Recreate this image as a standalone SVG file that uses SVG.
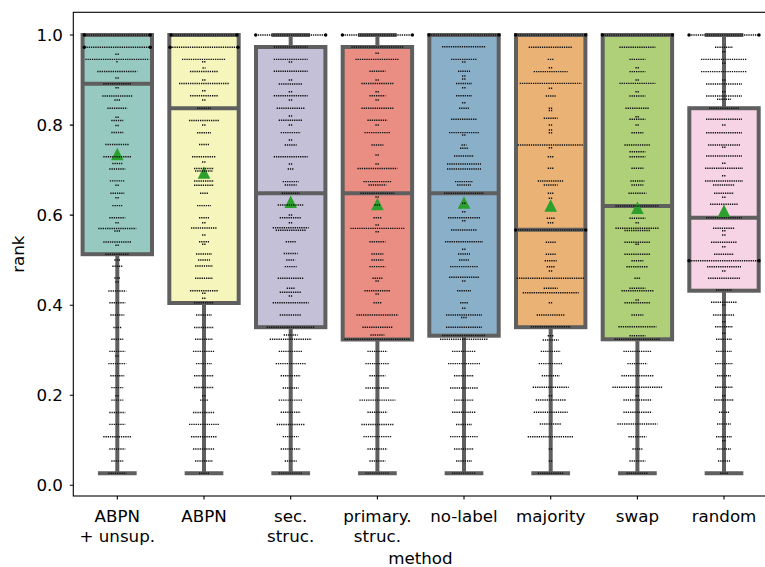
<svg xmlns="http://www.w3.org/2000/svg" xmlns:xlink="http://www.w3.org/1999/xlink" width="765" height="567" viewBox="0 0 765 567">
  <style>
    text { font-family: "DejaVu Sans", "Liberation Sans", sans-serif; font-size: 16.7px; fill: #000; }
    .box { stroke: #5f5f5f; stroke-width: 4; }
    .wk { stroke: #5f5f5f; stroke-width: 4; stroke-linecap: square; fill: none; }
    .med { stroke: #5f5f5f; stroke-width: 4; fill: none; }
    .sw { fill: none; stroke: #111; stroke-width: 1.4; stroke-dasharray: 1.3 0.9; }
    .end { fill: #000; }
    .mean { fill: #2ca02c; }
    .tick { stroke: #000; stroke-width: 1.1; }
  </style>
  <defs>
    <path id="tri" d="M0 -6.3L6.3 6.3H-6.3Z"/>
    <circle id="dot" r="1.7"/>
  </defs>

  <rect width="765" height="567" fill="#fff"/>

  <!-- ABPN + unsup. -->
  <g id="abpn-unsup" transform="translate(117.3,0)">
    <path class="wk" d="M0 254.2V473.2M-17.35 473.2H17.35"/>
    <rect class="box" x="-34.7" y="35" width="69.4" height="219.2" fill="#96cac1"/>
    <path class="med" d="M-34.7 83.7H34.7"/>
    <use xlink:href="#tri" class="mean" y="154"/>
    <path class="sw" d="M-33 35H33M-33 47.2H33M-2 54.3H2M-32 59.4H32M-1 61.7H1M-20 71.5H20M-2 78H2M-14 83.7H14M-2 87.7H2M-15 96H15M-3 100H3M-10 108.2H10M-2 117.3H2M-6 120.5H6M-2 125.5H2M-6 132.5H6M-12 144.5H12M-14 156.7H14M-5 163.5H5M-8 169H8M-7.5 180.9H7.5M-2 185.3H2M-7 193.3H7M-2 197.7H2M-5 205.6H5M-8 217.7H8M-2 222.7H2M-19 228.5H19M-3 231H3M-14 242H14M-2 245.3H2M-12 254.2H12M-3 260H3M-5 266.2H5M-3 278H3M-2 282H2M-9 291H9M-8 302.8H8M-7 315H7M-4 327.5H4M-6 339.3H6M-8 351.4H8M-2 356H2M-9 363.6H9M-7 375.8H7M-6 387.6H6M-2 395.7H2M-6 400.1H6M-8 412.5H8M-8 424.4H8M-14 436.7H14M-8 449H8M-6 461H6M-9 473.2H9"/>
    <g class="end">
      <use xlink:href="#dot" x="-33" y="35"/><use xlink:href="#dot" x="33" y="35"/>
      <use xlink:href="#dot" x="-33" y="47.2"/><use xlink:href="#dot" x="33" y="47.2"/>
    </g>
  </g>

  <!-- ABPN -->
  <g id="abpn" transform="translate(204,0)">
    <path class="wk" d="M0 303V473.2M-17.35 473.2H17.35"/>
    <rect class="box" x="-34.7" y="35" width="69.4" height="268" fill="#f5f5bc"/>
    <path class="med" d="M-34.7 108.2H34.7"/>
    <use xlink:href="#tri" class="mean" y="172.5"/>
    <path class="sw" d="M-33 35H33M-34 47.2H34M-22 59.4H22M-2 61.7H2M-1.5 68H1.5M-14 71.5H14M-2 80H2M-25 83.5H25M-2 90.7H2M-14 95.8H14M-2 100H2M-7 108.3H7M-15 120.5H15M-2 125H2M-7 132.7H7M-5 144.5H5M-12 156.7H12M-2 162H2M-10 168.5H10M-9 171H9M-10 181H10M-10 185.3H10M-4 193.3H4M-7 205.6H7M-5 217.7H5M-2 222.7H2M-13 228H13M-2 235H2M-5 241.8H5M-2 244.3H2M-8 254H8M-6 260H6M-9 266H9M-9 278.3H9M-14 290.7H14M-2 293.3H2M-2 298.3H2M-10 302.8H10M-8 315H8M-10 327.5H10M-9 339.3H9M-11 351.4H11M-8 363.6H8M-10 375.8H10M-10 387.5H10M-2 395.7H2M-4 400.1H4M-11 412.5H11M-15 424.4H15M-13 436.7H13M-11 449H11M-9 461H9M-5 473.2H5"/>
    <g class="end">
      <use xlink:href="#dot" x="-33" y="35"/><use xlink:href="#dot" x="33" y="35"/>
      <use xlink:href="#dot" x="-34" y="47.2"/><use xlink:href="#dot" x="34" y="47.2"/>
    </g>
  </g>

  <!-- sec. struc. -->
  <g id="sec-struc" transform="translate(290.7,0)">
    <path class="wk" d="M0 327.2V473.2M-17.35 473.2H17.35M0 47V35M-17.35 35H17.35"/>
    <rect class="box" x="-34.7" y="47" width="69.4" height="280.2" fill="#c3c0d8"/>
    <path class="med" d="M-34.7 193.3H34.7"/>
    <use xlink:href="#tri" class="mean" y="201.7"/>
    <path class="sw" d="M-35 35H35M-17 47H17M-17 59.4H17M-2 62H2M-17 71.2H17M-2 80H2M-12 84H12M-2 91.7H2M-17 95.8H17M-2 100H2M-14 108.3H14M-2 116H2M-12 120.2H12M-2 125H2M-10 132.6H10M-2 140H2M-6 145H6M-17 156.7H17M-2 164H2M-3 169H3M-8 181.6H8M-6 185H6M-9 193.3H9M-13 205H13M-2 215H2M-11 217.7H11M-2 222.7H2M-18 227.8H18M-15 230.2H15M-5 241.8H5M-7 253.5H7M-4.5 260H4.5M-6 266.6H6M-13 278.3H13M-4 288.3H4M-11 292.3H11M-2 296H2M-18 302.8H18M-11 315H11M-24 327.3H24M-7 335H7M-21 339.3H21M-12 351.4H12M-15 363.6H15M-10 375.8H10M-8 388H8M-12 400.1H12M-10 412.3H10M-14 424.5H14M-8 436.6H8M-10 449H10M-6 461H6M-12 473.1H12"/>
    <g class="end">
      <use xlink:href="#dot" x="-35" y="35"/><use xlink:href="#dot" x="35" y="35"/>
    </g>
  </g>

  <!-- primary. struc. -->
  <g id="primary-struc" transform="translate(377.4,0)">
    <path class="wk" d="M0 339.5V473.2M-17.35 473.2H17.35M0 47V35M-17.35 35H17.35"/>
    <rect class="box" x="-34.7" y="47" width="69.4" height="292.5" fill="#ea8e83"/>
    <path class="med" d="M-34.7 193.3H34.7"/>
    <use xlink:href="#tri" class="mean" y="204"/>
    <path class="sw" d="M-35 35H35M-26 47H26M-2 53.3H2M-22 59.4H22M-8 71.2H8M-2 80H2M-16 83.5H16M-2 91.7H2M-8 95.8H8M-2 100H2M-16 108.3H16M-10 120.2H10M-2 125H2M-13 132.6H13M-6 145H6M-2 155H2M-2 164H2M-20 168.5H20M-14 181.6H14M-9 185H9M-17 193.3H17M-2 197H2M-3 205H3M-4 217.7H4M-2 225H2M-27 228.4H27M-2 231.7H2M-8 241.8H8M-6 254H6M-6 260H6M-8 266.6H8M-5 278.3H5M-2 281H2M-13 290.7H13M-2 294H2M-4 302.8H4M-21 315H21M-15 327.3H15M-7 335H7M-33 339.3H33M-10 351.4H10M-12 363.6H12M-8 375.8H8M-12 388H12M-18 400.1H18M-10 412.3H10M-16 424.5H16M-14 436.6H14M-10 449H10M-8 461H8M-12 473.1H12"/>
    <g class="end">
      <use xlink:href="#dot" x="-35" y="35"/><use xlink:href="#dot" x="35" y="35"/>
    </g>
  </g>

  <!-- no-label -->
  <g id="no-label" transform="translate(464,0)">
    <path class="wk" d="M0 335.7V473.2M-17.35 473.2H17.35"/>
    <rect class="box" x="-34.7" y="35" width="69.4" height="300.7" fill="#8aafc9"/>
    <path class="med" d="M-34.7 193.3H34.7"/>
    <use xlink:href="#tri" class="mean" y="202.5"/>
    <path class="sw" d="M-35 35H35M-22 46.8H22M-13 59.4H13M-2 62H2M-6 71.2H6M-2 76H2M-2 79H2M-8 83.5H8M-2 87.7H2M-8 95.8H8M-2 102.7H2M-5 108.3H5M-13 119.3H13M-15 132.6H15M-2 135H2M-2.5 145H2.5M-4 148.3H4M-10 156H10M-17 164H17M-17 169H17M-9 181.6H9M-7 185H7M-20 193.3H20M-2 203.3H2M-2 211.7H2M-16 217.7H16M-2 220.7H2M-13 230H13M-19 241.8H19M-2 249.3H2M-6 254H6M-5 260H5M-14 266.6H14M-15 277.3H15M-2 281H2M-7 290.7H7M-4 302.8H4M-2 308.3H2M-18 315H18M-3 317.5H3M-18 327.3H18M-22 335.5H22M-24 339.3H24M-12 351.4H12M-16 363.6H16M-10 375.8H10M-14 388H14M-10 400.1H10M-12 412.3H12M-8 424.5H8M-14 436.6H14M-10 449H10M-8 461H8M-12 473.1H12"/>
    <g class="end">
      <use xlink:href="#dot" x="-35" y="35"/><use xlink:href="#dot" x="35" y="35"/>
    </g>
  </g>

  <!-- majority -->
  <g id="majority" transform="translate(550.7,0)">
    <path class="wk" d="M0 327.2V473.2M-17.35 473.2H17.35"/>
    <rect class="box" x="-34.7" y="35" width="69.4" height="292.2" fill="#eab375"/>
    <path class="med" d="M-34.7 229.8H34.7"/>
    <use xlink:href="#tri" class="mean" y="205.5"/>
    <path class="sw" d="M-35 35H35M-22 47.3H22M-3 59.4H3M-2 67.7H2M-17 71.6H17M-31 83.4H31M-2 88.3H2M-5 96H5M-2 108.3H2M-2 110.5H2M-7 118.3H7M-2 125H2M-2 130H2M-2 132.7H2M-33 145H33M-2 147.7H2M-3 156.7H3M-3 168.3H3M-13 181H13M-7 185H7M-3 193.3H3M-2 198.3H2M-4 218.3H4M-3 222.7H3M-35 230H35M-5 242.3H5M-5 254.3H5M-6 260.7H6M-4 266.7H4M-2 271H2M-34 278.3H34M-7 288.3H7M-28 292.7H28M-2 302.7H2M-14 315H14M-20 326.8H20M-3 335.7H3M-8 340H8M-10 351.4H10M-12 363.6H12M-9 375.8H9M-18 387.3H18M-2 395.7H2M-15 400H15M-17 412.3H17M-11 424H11M-23 436.7H23M-2 449H2M-2 461H2M-13 473.3H13"/>
    <g class="end">
      <use xlink:href="#dot" x="-35" y="35"/><use xlink:href="#dot" x="35" y="35"/>
      <use xlink:href="#dot" x="-35" y="230"/><use xlink:href="#dot" x="35" y="230"/>
    </g>
  </g>

  <!-- swap -->
  <g id="swap" transform="translate(637.4,0)">
    <path class="wk" d="M0 339.3V473.2M-17.35 473.2H17.35"/>
    <rect class="box" x="-34.7" y="35" width="69.4" height="304.3" fill="#afcf78"/>
    <path class="med" d="M-34.7 206H34.7"/>
    <use xlink:href="#tri" class="mean" y="207.8"/>
    <path class="sw" d="M-35 35H35M-18 47.3H18M-8 59.4H8M-2 67.7H2M-8 71.6H8M-2 80H2M-18 83.4H18M-2 91.7H2M-8 96H8M-12 108.3H12M-2 116.7H2M-8 119.3H8M-2 125H2M-6 132.7H6M-13 145H13M-8 151.7H8M-8 156.7H8M-6 168.3H6M-7 181H7M-6 185H6M-9 193.3H9M-22 206H22M-8 218.3H8M-2 222.7H2M-22 228.3H22M-13 230.5H13M-13 242.3H13M-2 244.3H2M-13 254.3H13M-6 260.7H6M-11 266.7H11M-3 278.3H3M-8 288.3H8M-16 290.7H16M-2 300H2M-13 302.7H13M-6 315H6M-19 326.7H19M-8 335.7H8M-23 339.3H23M-14 351.4H14M-10 363.6H10M-16 375.8H16M-25 387.3H25M-2 395.7H2M-14 400H14M-14 412.3H14M-20 424H20M-9 436.7H9M-5 449H5M-8 461H8M-11 473.3H11"/>
    <g class="end">
      <use xlink:href="#dot" x="-35" y="35"/><use xlink:href="#dot" x="35" y="35"/>
    </g>
  </g>

  <!-- random -->
  <g id="random" transform="translate(724,0)">
    <path class="wk" d="M0 290.7V473.2M-17.35 473.2H17.35M0 108.2V35M-17.35 35H17.35"/>
    <rect class="box" x="-34.7" y="108.2" width="69.4" height="182.5" fill="#f6d3e5"/>
    <path class="med" d="M-34.7 217.7H34.7"/>
    <use xlink:href="#tri" class="mean" y="210.8"/>
    <path class="sw" d="M-35 35H35M-9 47.3H9M-2 51.7H2M-23 59.4H23M-2 63.3H2M-23 71.6H23M-2 80H2M-18 84H18M-2 91.7H2M-18 96H18M-7 99.3H7M-15 108.3H15M-18 119.3H18M-2 125H2M-18 132.7H18M-16 145H16M-2 147.3H2M-18 156H18M-2 163.3H2M-19 168.3H19M-2 175.7H2M-19 181H19M-11 185H11M-10 193.3H10M-2 197.3H2M-14 204.3H14M-18 217.7H18M-11 228.3H11M-2 230.7H2M-2 235H2M-13 242.3H13M-2 246.7H2M-10 254.3H10M-35 260.7H35M-17 266.7H17M-2 271H2M-16 278.3H16M-8 290H8M-13 302.3H13M-2 305H2M-11 315H11M-2 321.7H2M-9 326.7H9M-2 333.3H2M-8 339.3H8M-8 351.4H8M-9 363.6H9M-7 375.8H7M-9 387.3H9M-2 395.7H2M-10 400H10M-5 412.3H5M-7 424H7M-8 436.7H8M-2 440.7H2M-7 449H7M-6 461H6M-4 473.3H4"/>
    <g class="end">
      <use xlink:href="#dot" x="-35" y="35"/><use xlink:href="#dot" x="35" y="35"/>
      <use xlink:href="#dot" x="-35" y="260.7"/><use xlink:href="#dot" x="35" y="260.7"/>
    </g>
  </g>

  <!-- axes frame -->
  <g id="axes">
    <rect x="73.3" y="12.3" width="694.1" height="483.7" fill="none" stroke="#000" stroke-width="1.1"/>
    <path class="tick" d="M69.8 485.3H73.3M69.8 395.2H73.3M69.8 305.2H73.3M69.8 215.1H73.3M69.8 125.1H73.3M69.8 35H73.3"/>
    <path class="tick" d="M117.3 496V499.5M204 496V499.5M290.7 496V499.5M377.4 496V499.5M464 496V499.5M550.7 496V499.5M637.4 496V499.5M724 496V499.5"/>
    <g text-anchor="end">
      <text x="63" y="491.3">0.0</text>
      <text x="63" y="401.2">0.2</text>
      <text x="63" y="311.2">0.4</text>
      <text x="63" y="221.1">0.6</text>
      <text x="63" y="131.1">0.8</text>
      <text x="63" y="41">1.0</text>
    </g>
    <g text-anchor="middle">
      <text x="117.3" y="521.7">ABPN</text>
      <text x="117.3" y="541.5">+ unsup.</text>
      <text x="204" y="521.7">ABPN</text>
      <text x="290.7" y="521.7">sec.</text>
      <text x="290.7" y="541.5">struc.</text>
      <text x="377.4" y="521.7">primary.</text>
      <text x="377.4" y="541.5">struc.</text>
      <text x="464" y="521.7">no-label</text>
      <text x="550.7" y="521.7">majority</text>
      <text x="637.4" y="521.7">swap</text>
      <text x="724" y="521.7">random</text>
      <text x="420.4" y="564">method</text>
      <text transform="translate(24,254.2) rotate(-90)">rank</text>
    </g>
  </g>
</svg>
